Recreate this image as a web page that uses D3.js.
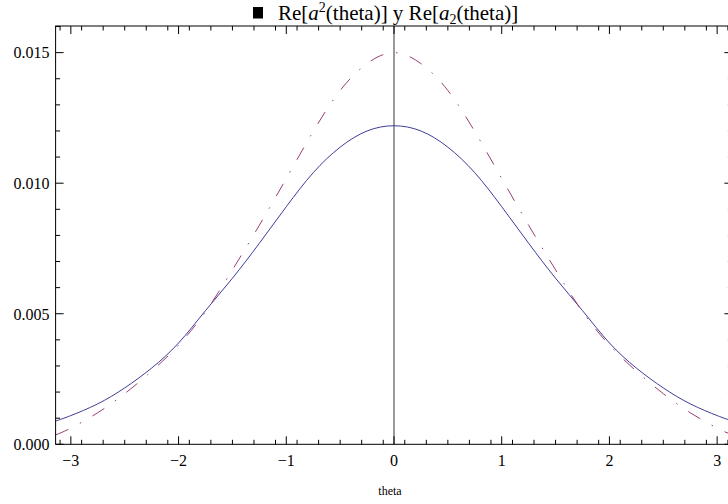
<!DOCTYPE html>
<html>
<head>
<script src="https://d3js.org/d3.v7.min.js"></script>
<style>
  body { margin: 0; background: #fff; }
  svg text { font-family: "Liberation Serif", "Times New Roman", serif; fill: #000; }
  .frame { fill: none; stroke: #000; stroke-width: 1; }
  .tick { stroke: #000; stroke-width: 1; }
</style>
</head>
<body>
<svg id="chart" width="728" height="504"></svg>
<script>
// values (symmetric around theta = 0)
const theta = [-Math.PI, -3, -2.75, -2.5, -2.25, -2, -1.75, -1.5, -1.25, -1, -0.75, -0.5, -0.25,
               0, 0.25, 0.5, 0.75, 1, 1.25, 1.5, 1.75, 2, 2.25, 2.5, 2.75, 3, Math.PI];
const reA2sup = [0.00089, 0.00110, 0.00155, 0.00216, 0.00292, 0.00388, 0.00512, 0.00636, 0.00770, 0.00910, 0.01040, 0.01138, 0.01200,
                 0.01220, 0.01200, 0.01138, 0.01040, 0.00910, 0.00770, 0.00636, 0.00512, 0.00388, 0.00292, 0.00216, 0.00155, 0.00110, 0.00089];
const reA2sub = [0.00036, 0.00062, 0.00121, 0.00194, 0.00280, 0.00380, 0.00508, 0.00668, 0.00839, 0.01018, 0.01198, 0.01355, 0.01458,
                 0.01500, 0.01458, 0.01355, 0.01198, 0.01018, 0.00839, 0.00668, 0.00508, 0.00380, 0.00280, 0.00194, 0.00121, 0.00062, 0.00036];
const xMajor = [-3, -2, -1, 0, 1, 2, 3];
const yMajor = [0, 0.005, 0.010, 0.015];
const yLabels = ["0.000", "0.005", "0.010", "0.015"];

const svg = d3.select("#chart");
const x = d3.scaleLinear().domain([-Math.PI, Math.PI]).range([55.6, 732.4]);
const y = d3.scaleLinear().domain([0, 0.01602]).range([444.3, 26]);

// minor ticks every 0.2 on x, every 0.001 on y
const xMinor = d3.range(-31, 32, 2).map(v => v / 10).filter(v => v >= -Math.PI && v <= Math.PI);
const yMinor = d3.range(1, 17).filter(v => v % 5 !== 0).map(v => v / 1000);

const [x0, x1] = x.range();
const [yb, yt] = y.range();

// axis line at theta = 0
svg.append("line")
  .attr("x1", x(0)).attr("x2", x(0)).attr("y1", yt).attr("y2", yb)
  .attr("stroke", "#808080").attr("stroke-width", 1.6);

// curves
const line = (vals) => d3.line()
  .x((d, i) => x(theta[i]))
  .y(d => y(d))
  .curve(d3.curveNatural)(vals);

svg.append("path").attr("d", line(reA2sup))
  .attr("fill", "none").attr("stroke", "#3d3d99").attr("stroke-width", 1);
svg.append("path").attr("d", line(reA2sub))
  .attr("fill", "none").attr("stroke", "#993d74").attr("stroke-width", 1)
  .attr("stroke-dasharray", "14,13,1.5,13");

// frame
svg.append("rect").attr("class", "frame")
  .attr("x", x0).attr("y", yt).attr("width", x1 - x0).attr("height", yb - yt);

// ticks
const g = svg.append("g");
const xTick = (v, len) => {
  g.append("line").attr("class", "tick").attr("x1", x(v)).attr("x2", x(v)).attr("y1", yb).attr("y2", yb - len);
  g.append("line").attr("class", "tick").attr("x1", x(v)).attr("x2", x(v)).attr("y1", yt).attr("y2", yt + len);
};
const yTick = (v, len) => {
  g.append("line").attr("class", "tick").attr("x1", x0).attr("x2", x0 + len).attr("y1", y(v)).attr("y2", y(v));
  g.append("line").attr("class", "tick").attr("x1", x1).attr("x2", x1 - len).attr("y1", y(v)).attr("y2", y(v));
};
xMajor.forEach(v => xTick(v, 8));
xMinor.forEach(v => xTick(v, 4.5));
yMajor.forEach(v => yTick(v, 8));
yMinor.forEach(v => yTick(v, 4.5));

// tick labels
svg.selectAll("text.xl").data(xMajor).join("text")
  .attr("class", "xl")
  .attr("x", d => x(d)).attr("y", 466)
  .attr("text-anchor", "middle").style("font-size", "16px")
  .text(d => d < 0 ? "\u2212" + (-d) : d);
svg.selectAll("text.yl").data(yMajor).join("text")
  .attr("class", "yl")
  .attr("x", 49.5).attr("y", d => y(d) + 5.8)
  .attr("text-anchor", "end").style("font-size", "16px")
  .text((d, i) => yLabels[i]);

// axis label
svg.append("text").attr("x", 390).attr("y", 495)
  .attr("text-anchor", "middle").style("font-size", "12px").text("theta");

// title
svg.append("rect").attr("x", 253).attr("y", 7).attr("width", 10).attr("height", 11.5).attr("fill", "#000");
const title = svg.append("text").attr("x", 278).attr("y", 19.5).style("font-size", "21px");
title.append("tspan").text("Re[");
title.append("tspan").style("font-style", "italic").text("a");
title.append("tspan").attr("dy", -8).style("font-size", "14px").text("2");
title.append("tspan").attr("dy", 8).text("(theta)] y Re[");
title.append("tspan").style("font-style", "italic").text("a");
title.append("tspan").attr("dy", 4).style("font-size", "14px").text("2");
title.append("tspan").attr("dy", -4).text("(theta)]");
</script>
</body>
</html>
